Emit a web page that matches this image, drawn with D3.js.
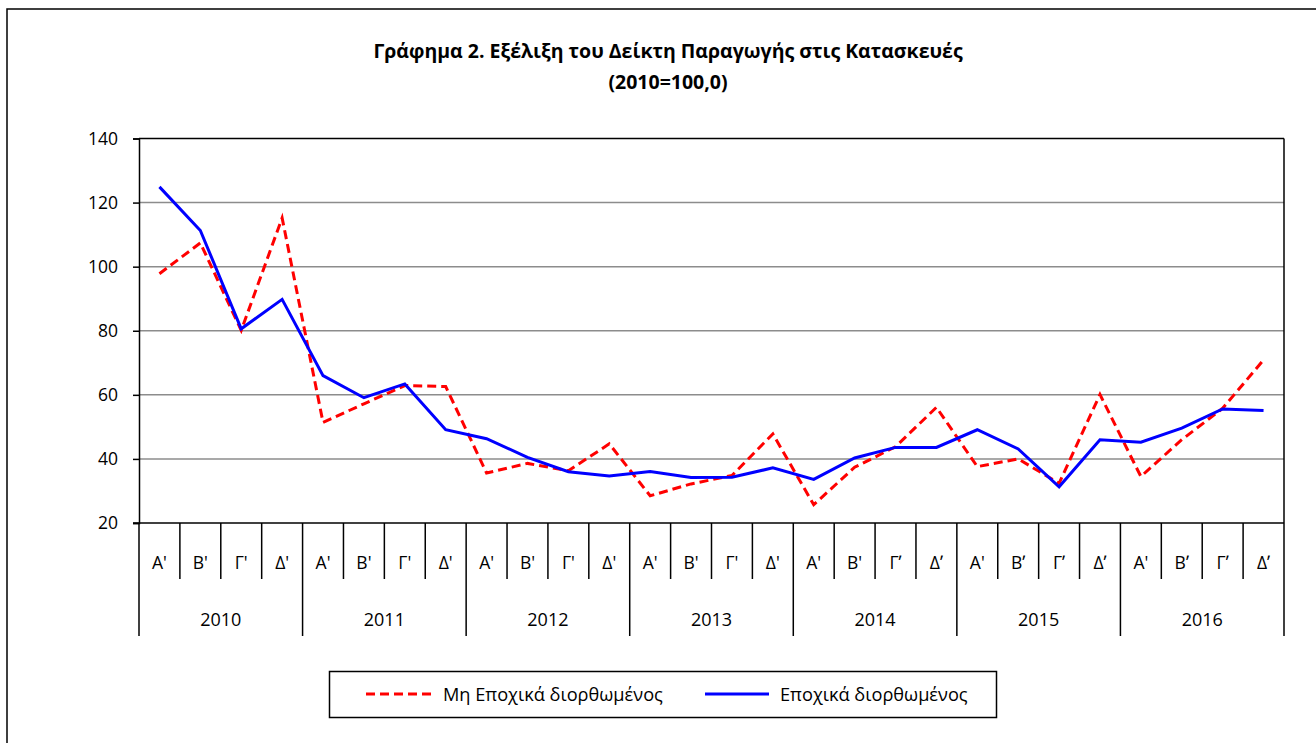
<!DOCTYPE html>
<html>
<head>
<meta charset="utf-8">
<script src="https://cdn.jsdelivr.net/npm/d3@7"></script>
<style>
body { margin: 0; background: #fff; }
svg text { font-family: "Open Sans", "Noto Sans", sans-serif; fill: #000; }
</style>
</head>
<body>
<svg width="1316" height="743"></svg>
<script>
// quarters and years for the x axis
const quarters = ["Α'", "Β'", "Γ'", "Δ'", "Α'", "Β'", "Γ'", "Δ'", "Α'", "Β'", "Γ'", "Δ'",
	"Α'", "Β'", "Γ'", "Δ'", "Α'", "Β'", "Γʹ", "Δʹ", "Α'", "Βʹ", "Γʹ", "Δʹ", "Α'", "Βʹ", "Γʹ", "Δʹ"]
const years = ["2010", "2011", "2012", "2013", "2014", "2015", "2016"]

// Μη Εποχικά διορθωμένος
const rawValues = [97.8, 107.4, 80.1, 115.2, 51.4, 57.2, 62.9, 62.6,
	35.6, 38.6, 36.3, 44.7, 28.5, 32.2, 34.8, 47.8,
	25.7, 37.4, 43.8, 56.1, 37.6, 40.0, 32.4, 60.1,
	34.5, 46.0, 55.8, 70.9]
// Εποχικά διορθωμένος
const saValues = [124.9, 111.3, 80.6, 89.8, 66.0, 59.1, 63.4, 49.1,
	46.3, 40.5, 36.0, 34.7, 36.1, 34.2, 34.3, 37.2,
	33.6, 40.3, 43.6, 43.6, 49.1, 43.1, 31.3, 46.0,
	45.2, 49.6, 55.6, 55.1]

const yTicks = [20, 40, 60, 80, 100, 120, 140]

const svg = d3.select("svg")

// outer frame (runs off the picture to the right and bottom)
svg.append("rect")
	.attr("x", 7).attr("y", 9)
	.attr("width", 1340).attr("height", 760)
	.attr("fill", "none").attr("stroke", "#000").attr("stroke-width", 1.5)

svg.append("text")
	.attr("x", 668).attr("y", 58)
	.attr("text-anchor", "middle")
	.attr("font-size", 19.5).attr("font-weight", "bold")
	.text("Γράφημα 2. Εξέλιξη του Δείκτη Παραγωγής στις Κατασκευές")
svg.append("text")
	.attr("x", 668).attr("y", 89)
	.attr("text-anchor", "middle")
	.attr("font-size", 19.5).attr("font-weight", "bold")
	.text("(2010=100,0)")

const plotL = 139, plotR = 1284, plotT = 138.5, plotB = 523

const x = d3.scaleBand()
	.domain(d3.range(quarters.length))
	.range([plotL, plotR])
	.paddingInner(0).paddingOuter(0)

const y = d3.scaleLinear()
	.domain([20, 140])
	.range([plotB, plotT])

// gridlines
svg.append("g")
	.selectAll("line")
	.data(yTicks.filter(d => d > 20 && d < 140))
	.enter()
	.append("line")
	.attr("x1", plotL).attr("x2", plotR)
	.attr("y1", d => y(d)).attr("y2", d => y(d))
	.attr("stroke", "#8c8c8c").attr("stroke-width", 1.5)

// y axis
const yAxis = svg.append("g")
	.attr("transform", `translate(${plotL},0)`)
	.call(d3.axisLeft(y).tickValues(yTicks).tickSize(6).tickPadding(15))
yAxis.select(".domain").attr("stroke", "#000").attr("stroke-width", 1.5)
yAxis.selectAll(".tick line").attr("stroke", "#000").attr("stroke-width", 1.5)
yAxis.selectAll(".tick text")
	.attr("font-size", 17.5).attr("font-family", "Open Sans, sans-serif")

// top and right border of plot
svg.append("line")
	.attr("x1", plotL).attr("x2", plotR).attr("y1", plotT).attr("y2", plotT)
	.attr("stroke", "#000").attr("stroke-width", 1.5)
svg.append("line")
	.attr("x1", plotR).attr("x2", plotR).attr("y1", plotT).attr("y2", plotB)
	.attr("stroke", "#000").attr("stroke-width", 1.5)

// category axis
svg.append("line")
	.attr("x1", plotL - 6).attr("x2", plotR).attr("y1", plotB).attr("y2", plotB)
	.attr("stroke", "#000").attr("stroke-width", 1.5)

const bounds = d3.range(quarters.length + 1)
svg.append("g")
	.selectAll("line")
	.data(bounds)
	.enter()
	.append("line")
	.attr("x1", d => plotL + d * x.step())
	.attr("x2", d => plotL + d * x.step())
	.attr("y1", plotB)
	.attr("y2", d => d % 4 === 0 ? 636 : 579)
	.attr("stroke", "#000").attr("stroke-width", 1.5)

svg.append("g")
	.selectAll("text")
	.data(quarters)
	.enter()
	.append("text")
	.attr("x", (d, i) => x(i) + x.bandwidth() / 2)
	.attr("y", 569)
	.attr("text-anchor", "middle")
	.attr("font-size", 17.5)
	.text(d => d)

svg.append("g")
	.selectAll("text")
	.data(years)
	.enter()
	.append("text")
	.attr("x", (d, i) => x(i * 4) + x.bandwidth() * 2)
	.attr("y", 626)
	.attr("text-anchor", "middle")
	.attr("font-size", 18)
	.text(d => d)

// lines
const line = d3.line()
	.x((d, i) => x(i) + x.bandwidth() / 2)
	.y(d => y(d))

svg.append("path")
	.datum(rawValues)
	.attr("d", line)
	.attr("fill", "none")
	.attr("stroke", "#ff0000")
	.attr("stroke-width", 3)
	.attr("stroke-dasharray", "9,5")

svg.append("path")
	.datum(saValues)
	.attr("d", line)
	.attr("fill", "none")
	.attr("stroke", "#0000ff")
	.attr("stroke-width", 3)

// legend
const legend = svg.append("g")
legend.append("rect")
	.attr("x", 329.5).attr("y", 671.5)
	.attr("width", 667).attr("height", 46)
	.attr("fill", "#fff").attr("stroke", "#000").attr("stroke-width", 1.5)

const legendItems = [
	{ name: "Μη Εποχικά διορθωμένος", color: "#ff0000", dash: "9,5", x1: 366, x2: 435, tx: 443 },
	{ name: "Εποχικά διορθωμένος", color: "#0000ff", dash: null, x1: 705, x2: 769, tx: 780 }
]
legendItems.forEach(item => {
	legend.append("line")
		.attr("x1", item.x1).attr("x2", item.x2)
		.attr("y1", 694).attr("y2", 694)
		.attr("stroke", item.color).attr("stroke-width", 3)
		.attr("stroke-dasharray", item.dash)
	legend.append("text")
		.attr("x", item.tx).attr("y", 701)
		.attr("font-size", 18.2)
		.text(item.name)
})
</script>
</body>
</html>
